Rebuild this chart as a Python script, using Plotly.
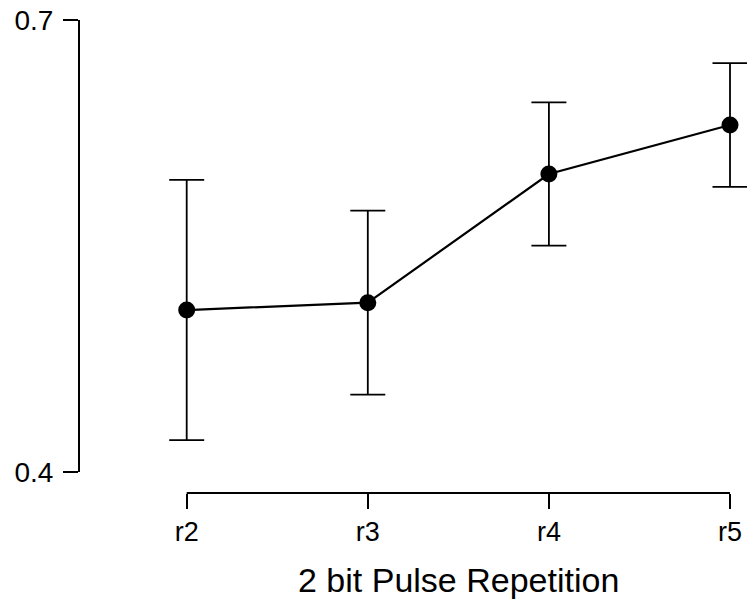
import plotly.graph_objects as go

categories = ["r2", "r3", "r4", "r5"]
means = [0.5075, 0.5124, 0.5978, 0.6303]
errors = [0.0864, 0.0611, 0.0475, 0.0411]
y_tick_vals = [0.4, 0.7]
y_tick_text = ["0.4", "0.7"]
x_title = "2 bit Pulse Repetition"

W, H = 747, 601
ml, mt = 79, 20
mr, mb = 0, H - 493
pw = W - ml - mr
ph = H - mt - mb

# pixel anchors of the R-style axes
x_first, x_last = 186.7, 730.0
n = len(categories) - 1
px_per_cat = (x_last - x_first) / n
data_range = [-(x_first - ml) / px_per_cat, n + (W - x_last) / px_per_cat]
y_dom_start = (493 - 472) / ph

fig = go.Figure()
fig.add_trace(go.Scatter(
    x=categories, y=means,
    mode="lines+markers",
    line=dict(color="black", width=2.2),
    marker=dict(color="black", size=17),
    error_y=dict(type="data", array=errors, visible=True,
                 color="black", thickness=1.8, width=17.5),
    cliponaxis=False,
    showlegend=False,
))

# x axis line spanning first to last category
fig.add_shape(type="line", xref="x", yref="paper",
              x0=0, x1=n, y0=0, y1=0,
              line=dict(color="black", width=2), layer="above")

fig.add_annotation(text=x_title, xref="x", yref="paper",
                   x=n / 2, y=0, yanchor="top", yshift=-66,
                   showarrow=False, font=dict(size=34))

fig.update_layout(
    width=W, height=H,
    margin=dict(l=ml, r=mr, t=mt, b=mb),
    paper_bgcolor="white", plot_bgcolor="white",
    font=dict(family="Liberation Sans, Arial, sans-serif", color="black"),
    xaxis=dict(
        type="category", range=data_range, domain=[0, 1],
        anchor="free", position=0,
        showline=False,
        ticks="outside", ticklen=15, tickwidth=1.5, tickcolor="black",
        showgrid=False, zeroline=False,
        tickfont=dict(size=27),
        automargin=False,
    ),
    yaxis=dict(
        range=[0.4, 0.7], domain=[y_dom_start, 1],
        anchor="free", position=0,
        showline=True, linecolor="black", linewidth=2,
        ticks="outside", ticklen=15, tickwidth=1.5, tickcolor="black",
        tickvals=y_tick_vals, ticktext=y_tick_text,
        showgrid=False, zeroline=False,
        tickfont=dict(size=28),
        ticklabelstandoff=4,
        automargin=False,
    ),
)

fig.write_html("out.html",
               config={"displayModeBar": False},
               post_script="document.body.style.margin='0';document.body.style.overflow='hidden';")
